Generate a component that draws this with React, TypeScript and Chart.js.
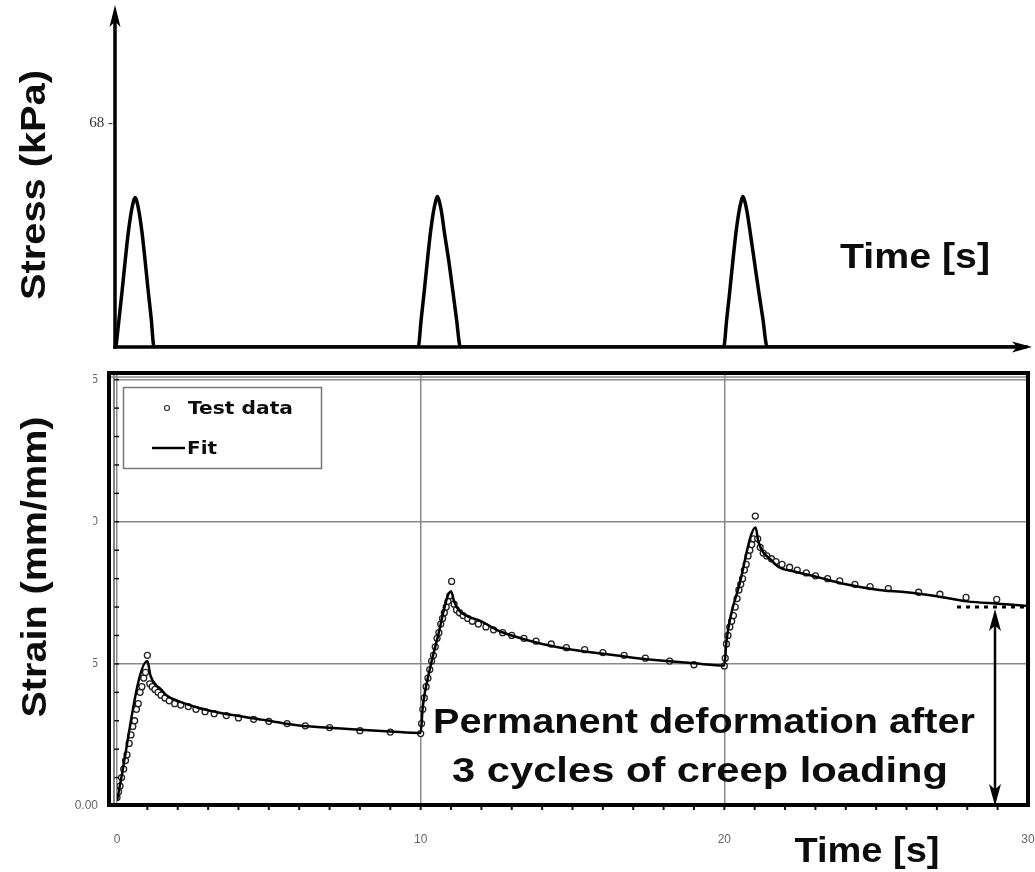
import React, { useEffect, useRef } from 'react';
import { Chart, registerables } from 'chart.js';
Chart.register(...registerables);

// ---------- Data ----------
const stressTime = [
  0, 0.1, 0.2, 0.3, 0.4, 0.5, 0.58, 0.63, 0.68, 0.76, 0.86, 0.96, 1.06, 1.16, 1.25,
  9.94, 10.04, 10.14, 10.24, 10.34, 10.44, 10.52, 10.57, 10.62, 10.7, 10.8, 10.95, 11.08, 11.2, 11.33,
  19.99, 20.09, 20.19, 20.29, 20.39, 20.49, 20.57, 20.62, 20.67, 20.75, 20.86, 21.0, 21.14, 21.28, 21.42,
  30,
];
const stressKPa = [
  0, 8.5, 17, 26, 34.5, 41, 44.5, 45.5, 44.5, 41, 34.5, 26, 17, 8.5, 0,
  0, 8.5, 17, 26, 34.5, 41, 44.5, 45.8, 44.8, 41.5, 35, 26, 17, 8.5, 0,
  0, 8.5, 17, 26, 34.5, 41, 44.5, 45.8, 44.8, 41.5, 35, 26, 17, 8.5, 0,
  0,
];
const stressTicks = [68];

const fitTime = [
  0, 1.0, 1.1, 1.25, 1.45, 1.65, 2.0, 2.7, 3.3, 3.8, 4.9, 6.0, 7.0, 8.0, 9.0, 10.0,
  10.07, 10.3, 10.55, 11.0, 11.1, 11.25, 11.5, 12.0, 12.5, 13.0, 14.0, 15.0, 16.0, 17.0, 18.0, 19.0, 20.0,
  20.07, 20.5, 21.03, 21.12, 21.3, 21.5, 21.8, 22.3, 22.9, 24.0, 25.1, 26.0, 27.0, 28.0, 29.0, 30.0,
];
const fitStrain = [
  0.0002, 0.0051, 0.0046, 0.0043, 0.0041, 0.00388, 0.0037, 0.00345, 0.0033, 0.0032, 0.00302, 0.00283, 0.00275, 0.00268, 0.00262, 0.00257,
  0.0035, 0.0048, 0.0059, 0.00756, 0.0072, 0.0069, 0.0067, 0.0065, 0.0062, 0.006, 0.0057, 0.0055, 0.00536, 0.00522, 0.00511, 0.00502, 0.00494,
  0.0058, 0.0078, 0.0098, 0.0093, 0.0089, 0.0087, 0.0084, 0.00825, 0.0081, 0.0078, 0.0076, 0.00752, 0.00738, 0.0072, 0.00712, 0.00704,
];

const testTime = [
  0.0, 0.05, 0.1, 0.15, 0.22, 0.28, 0.33, 0.4, 0.46, 0.52, 0.58, 0.64, 0.7, 0.76, 0.82, 0.88, 0.94, 1.0,
  1.08, 1.16, 1.25, 1.35, 1.45, 1.58, 1.72, 1.9, 2.1, 2.35, 2.6, 2.9, 3.2, 3.6, 4.0, 4.5, 5.0, 5.6, 6.2, 7.0, 8.0, 9.0, 10.0,
  10.03, 10.07, 10.12, 10.18, 10.24, 10.3, 10.36, 10.42, 10.48, 10.54, 10.6, 10.66, 10.72, 10.78, 10.84, 10.9, 10.96, 11.02,
  11.1, 11.18, 11.28, 11.4, 11.55, 11.7, 11.9, 12.15, 12.4, 12.7, 13.0, 13.4, 13.8, 14.3, 14.8, 15.4, 16.0, 16.7, 17.4, 18.2, 19.0, 20.0,
  20.03, 20.07, 20.12, 20.18, 20.24, 20.3, 20.36, 20.42, 20.48, 20.54, 20.6, 20.66, 20.72, 20.78, 20.84, 20.9, 20.96, 21.02,
  21.1, 21.18, 21.28, 21.4, 21.55, 21.7, 21.9, 22.15, 22.4, 22.7, 23.0, 23.4, 23.8, 24.3, 24.8, 25.4, 26.4, 27.1, 27.96, 28.97,
];
const testStrain = [
  0.0003, 0.0005, 0.0007, 0.001, 0.0013, 0.0016, 0.0018, 0.0022, 0.0025, 0.0028, 0.003, 0.0034, 0.0036, 0.004, 0.0042, 0.0045, 0.0047, 0.0053,
  0.0043, 0.0042, 0.0041, 0.004, 0.0039, 0.0038, 0.0037, 0.0036, 0.00355, 0.0035, 0.0034, 0.00332, 0.00325, 0.00318, 0.0031, 0.00305, 0.00298, 0.0029, 0.00282, 0.00276, 0.00265, 0.0026, 0.00255,
  0.0029, 0.0034, 0.0038, 0.0042, 0.0045, 0.0048, 0.0051, 0.0053, 0.0056, 0.0059, 0.0061, 0.0064, 0.0066, 0.0068, 0.007, 0.0072, 0.0074, 0.0079,
  0.0071, 0.0069, 0.0068, 0.0067, 0.0066, 0.0065, 0.0064, 0.0063, 0.0062, 0.0061, 0.006, 0.0059, 0.0058, 0.0057, 0.00557, 0.0055, 0.0054, 0.0053, 0.0052, 0.0051, 0.00497, 0.00493,
  0.0052, 0.0057, 0.006, 0.0063, 0.0065, 0.0067, 0.007, 0.0073, 0.0076, 0.0078, 0.008, 0.0083, 0.0085, 0.0088, 0.009, 0.0092, 0.0094, 0.0102,
  0.0094, 0.0091, 0.0089, 0.0088, 0.0087, 0.0086, 0.0085, 0.0084, 0.0083, 0.0082, 0.0081, 0.008, 0.00792, 0.0078, 0.00772, 0.00765, 0.00752, 0.00745, 0.00734, 0.00727,
];

const timeTicks = [0, 10, 20, 30];
const strainTicks = [0, 0.005, 0.01, 0.015];
const legendLabels = ['Test data', 'Fit'];
const annotationLines = ['Permanent deformation after', '3 cycles of creep loading'];
const stressTitle = 'Stress (kPa)';
const strainTitle = 'Strain (mm/mm)';
const timeTitle = 'Time [s]';

// ---------- helpers ----------
const BOLD = 'bold 35px "Liberation Sans", Arial, sans-serif';
const INK = '#0d0d0d';

function fitText(ctx: CanvasRenderingContext2D, text: string, x: number, y: number, font: string, width: number, align: CanvasTextAlign, rotate = false) {
  ctx.save();
  ctx.font = font;
  const w = ctx.measureText(text).width;
  ctx.translate(x, y);
  if (rotate) ctx.rotate(-Math.PI / 2);
  ctx.scale(width / w, 1);
  ctx.textAlign = align;
  ctx.textBaseline = 'alphabetic';
  ctx.fillStyle = INK;
  ctx.fillText(text, 0, 0);
  ctx.restore();
}

function arrowHead(ctx: CanvasRenderingContext2D, tx: number, ty: number, dx: number, dy: number, len: number, half: number) {
  const bx = tx - dx * len, by = ty - dy * len;
  const nx = -dy, ny = dx;
  ctx.beginPath();
  ctx.moveTo(tx, ty);
  ctx.lineTo(bx + nx * half, by + ny * half);
  ctx.lineTo(tx - dx * len * 0.75, ty - dy * len * 0.75);
  ctx.lineTo(bx - nx * half, by - ny * half);
  ctx.closePath();
  ctx.fill();
}

const topDeco = {
  id: 'topDeco',
  afterDraw(chart: any) {
    const { ctx, chartArea: a } = chart;
    ctx.save();
    ctx.strokeStyle = '#000';
    ctx.fillStyle = '#000';
    ctx.lineWidth = 3.5;
    const ax = a.left - 1;
    const ay = a.bottom;
    ctx.beginPath();
    ctx.moveTo(ax, ay + 1.75);
    ctx.lineTo(ax, a.top + 12);
    ctx.stroke();
    arrowHead(ctx, ax, a.top, 0, -1, 22, 5.5);
    ctx.beginPath();
    ctx.moveTo(ax - 1.75, ay);
    ctx.lineTo(a.right - 2, ay);
    ctx.stroke();
    arrowHead(ctx, a.right + 4, ay, 1, 0, 20, 5.5);
    fitText(ctx, stressTitle, 45, 185, BOLD, 230, 'center', true);
    fitText(ctx, timeTitle, 915, 268, BOLD, 150, 'center');
    ctx.restore();
  },
};

const bottomDeco = {
  id: 'bottomDeco',
  afterDraw(chart: any) {
    const { ctx, chartArea: a, scales } = chart;
    const xs = scales.x, ys = scales.y;
    ctx.save();
    // minor ticks
    ctx.strokeStyle = '#111';
    ctx.lineWidth = 2;
    for (let t = 1; t < 30; t++) {
      const px = xs.getPixelForValue(t);
      ctx.beginPath();
      ctx.moveTo(px, a.bottom);
      ctx.lineTo(px, a.bottom + 4);
      ctx.stroke();
    }
    ctx.lineWidth = 1.5;
    for (let k = 1; k <= 15; k++) {
      const py = ys.getPixelForValue(k * 0.001);
      ctx.beginPath();
      ctx.moveTo(a.left - 3, py);
      ctx.lineTo(a.left + 2, py);
      ctx.stroke();
    }
    // frame
    ctx.strokeStyle = '#000';
    ctx.lineWidth = 4;
    ctx.strokeRect(a.left - 8, a.top - 1, a.right - (a.left - 8), a.bottom - 1 - (a.top - 1));
    ctx.lineWidth = 1.3;
    ctx.strokeStyle = '#444';
    ctx.beginPath();
    ctx.moveTo(a.left - 3, a.top + 1);
    ctx.lineTo(a.left - 3, a.bottom - 3);
    ctx.stroke();
    ctx.strokeStyle = '#888';
    ctx.lineWidth = 1.5;
    ctx.beginPath();
    ctx.moveTo(a.left - 6, a.top + 3);
    ctx.lineTo(a.right - 2, a.top + 3);
    ctx.stroke();

    // cover clipped tick labels
    ctx.fillStyle = '#fff';
    ctx.fillRect(0, 0, 93, 438);
    fitText(ctx, strainTitle, 46, 207, BOLD, 301, 'center', true);

    // legend
    ctx.strokeStyle = '#777';
    ctx.lineWidth = 1.5;
    ctx.strokeRect(123.5, 27.5, 198, 81);
    ctx.strokeStyle = '#333';
    ctx.lineWidth = 1.2;
    ctx.fillStyle = '#fff';
    ctx.beginPath();
    ctx.arc(167, 48, 2.5, 0, Math.PI * 2);
    ctx.fill();
    ctx.stroke();
    ctx.strokeStyle = '#000';
    ctx.lineWidth = 2.5;
    ctx.beginPath();
    ctx.moveTo(152, 88);
    ctx.lineTo(185, 88);
    ctx.stroke();
    const lf = 'bold 17px "DejaVu Sans", Verdana, sans-serif';
    fitText(ctx, legendLabels[0], 188, 54, lf, 105, 'left');
    fitText(ctx, legendLabels[1], 187, 94, lf, 30, 'left');

    // dotted line + double arrow
    ctx.strokeStyle = '#000';
    ctx.lineWidth = 3;
    ctx.setLineDash([4, 5]);
    ctx.beginPath();
    ctx.moveTo(957, 247);
    ctx.lineTo(1025, 247);
    ctx.stroke();
    ctx.setLineDash([]);
    ctx.lineWidth = 2.5;
    ctx.fillStyle = '#000';
    ctx.beginPath();
    ctx.moveTo(995, 262);
    ctx.lineTo(995, 433);
    ctx.stroke();
    arrowHead(ctx, 995, 249, 0, -1, 22, 6);
    arrowHead(ctx, 995, 446, 0, 1, 22, 6);

    // annotation
    fitText(ctx, annotationLines[0], 704, 373, BOLD, 542, 'center');
    fitText(ctx, annotationLines[1], 700, 422, BOLD, 496, 'center');
    fitText(ctx, timeTitle, 867, 502, BOLD, 145, 'center');
    ctx.restore();
  },
};

export default function App() {
  const topRef = useRef<HTMLCanvasElement>(null);
  const botRef = useRef<HTMLCanvasElement>(null);

  useEffect(() => {
    const top = new Chart(topRef.current as HTMLCanvasElement, {
      type: 'line',
      data: {
        datasets: [
          {
            data: stressTime.map((x, i) => ({ x, y: stressKPa[i] })),
            borderColor: '#000',
            borderWidth: 3.5,
            pointRadius: 0,
            cubicInterpolationMode: 'monotone',
            fill: false,
          } as any,
        ],
      },
      options: {
        responsive: false,
        animation: false,
        layout: { padding: { top: 5, bottom: 13, right: 7, left: 0 } },
        plugins: { legend: { display: false }, tooltip: { enabled: false } },
        scales: {
          x: { type: 'linear', min: 0, max: 30, display: false },
          y: {
            type: 'linear',
            min: 0,
            max: 104,
            afterFit: (s: any) => { s.width = 116; s.paddingTop = 0; s.paddingBottom = 0; },
            afterBuildTicks: (s: any) => { s.ticks = stressTicks.map((v) => ({ value: v })); },
            ticks: {
              callback: (v: any) => `${v} -`,
              font: { family: '"Liberation Serif", serif', size: 15 },
              color: '#333',
              padding: 3,
            },
            grid: { display: false, drawTicks: false },
            border: { display: false },
          },
        },
      } as any,
      plugins: [topDeco],
    });

    const bot = new Chart(botRef.current as HTMLCanvasElement, {
      type: 'line',
      data: {
        datasets: [
          {
            label: legendLabels[1],
            data: fitTime.map((x, i) => ({ x, y: fitStrain[i] })),
            borderColor: '#000',
            borderWidth: 2.5,
            pointRadius: 0,
            cubicInterpolationMode: 'monotone',
            fill: false,
          } as any,
          {
            label: legendLabels[0],
            data: testTime.map((x, i) => ({ x, y: testStrain[i] })),
            showLine: false,
            pointRadius: 3,
            pointBorderWidth: 1.3,
            pointBorderColor: '#222',
            pointBackgroundColor: '#fff',
          } as any,
        ],
      },
      options: {
        responsive: false,
        animation: false,
        layout: { padding: { top: 14, bottom: 0, right: 7, left: 0 } },
        plugins: { legend: { display: false }, tooltip: { enabled: false } },
        scales: {
          x: {
            type: 'linear',
            min: 0,
            max: 30,
            afterFit: (s: any) => { s.height = 66; s.paddingLeft = 0; s.paddingRight = 0; },
            afterBuildTicks: (s: any) => { s.ticks = timeTicks.map((v) => ({ value: v })); },
            ticks: {
              font: { family: '"Liberation Sans", Arial, sans-serif', size: 12 },
              color: '#666',
              padding: 26,
              maxRotation: 0,
              autoSkip: false,
            },
            grid: { color: '#8a8a8a', lineWidth: 1.5, drawTicks: false },
            border: { display: false },
          },
          y: {
            type: 'linear',
            min: 0,
            max: 0.0152,
            afterFit: (s: any) => { s.width = 117; s.paddingTop = 0; s.paddingBottom = 0; },
            afterBuildTicks: (s: any) => { s.ticks = strainTicks.map((v) => ({ value: v })); },
            ticks: {
              callback: (v: any) => (v === 0 ? '0.00' : Number(v).toFixed(3)),
              font: { family: '"Liberation Sans", Arial, sans-serif', size: 12 },
              color: '#666',
              padding: 19,
            },
            grid: { color: '#8a8a8a', lineWidth: 1.5, drawTicks: false },
            border: { display: false },
          },
        },
      } as any,
      plugins: [bottomDeco],
    });

    return () => {
      top.destroy();
      bot.destroy();
    };
  }, []);

  return (
    <div style={{ position: 'absolute', left: 0, top: 0, width: 1035, height: 872, background: '#fff', overflow: 'hidden' }}>
      <canvas ref={topRef} width={1035} height={360} style={{ position: 'absolute', left: 0, top: 0 }} />
      <canvas ref={botRef} width={1035} height={512} style={{ position: 'absolute', left: 0, top: 360 }} />
    </div>
  );
}
